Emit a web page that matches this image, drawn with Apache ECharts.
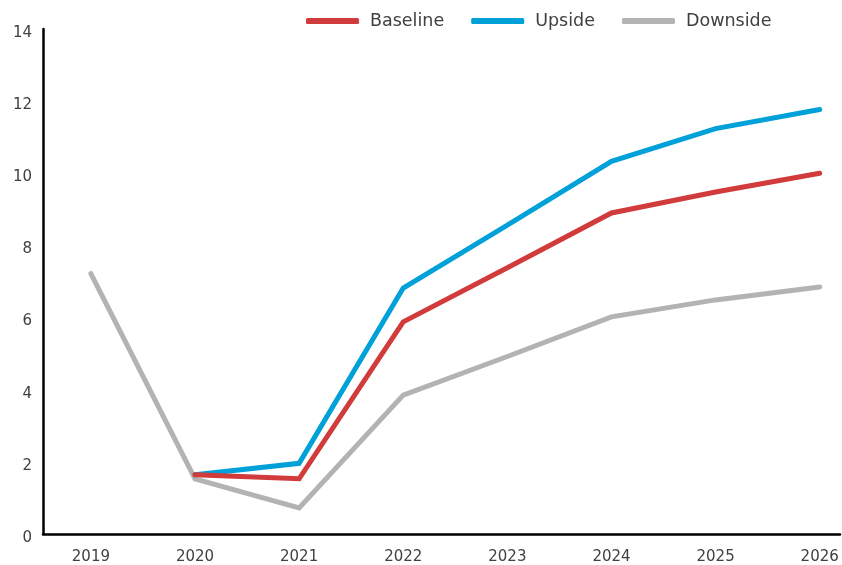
<!DOCTYPE html>
<html>
<head>
<meta charset="utf-8">
<script src="https://cdn.jsdelivr.net/npm/echarts@6/dist/echarts.min.js"></script>
<style>html,body{margin:0;padding:0;background:#fff}#c{width:842px;height:565px}</style>
</head>
<body>
<div id="c"></div>
<script>
var years = [2019, 2020, 2021, 2022, 2023, 2024, 2025, 2026];
var baseline = [null, 1.64, 1.53, 5.88, 7.38, 8.9, 9.48, 10.0];
var upside = [null, 1.64, 1.96, 6.82, 8.56, 10.33, 11.24, 11.77];
var downside = [7.22, 1.53, 0.72, 3.85, 4.92, 6.02, 6.49, 6.85];
var yTicks = [0, 2, 4, 6, 8, 10, 12, 14];

function pairs(vals) {
  var out = [];
  for (var i = 0; i < years.length; i++) {
    if (vals[i] !== null) out.push([years[i], vals[i]]);
  }
  return out;
}

var font = 'DejaVu Sans';
var chart = echarts.init(document.getElementById('c'));
chart.setOption({
  animation: false,
  backgroundColor: '#ffffff',
  grid: { left: 43, right: 2, top: 29, bottom: 29 },
  legend: {
    left: 306, top: 12,
    padding: 0,
    icon: 'roundRect',
    itemWidth: 53, itemHeight: 6,
    itemGap: 27,
    textStyle: { fontFamily: font, fontSize: 17.5, color: '#404040', padding: [0, 0, 0, 6] },
    data: ['Baseline', 'Upside', 'Downside']
  },
  xAxis: {
    type: 'value',
    min: 2018.54, max: 2026.195,
    splitLine: { show: false },
    axisLine: { show: true, lineStyle: { color: '#000', width: 2.5 } },
    axisTick: { show: false },
    axisLabel: {
      customValues: years,
      margin: 16,
      fontFamily: font, fontSize: 15, color: '#404040',
      formatter: function (v) { return String(v); }
    }
  },
  yAxis: {
    type: 'value',
    min: 0, max: 14, interval: 2,
    splitLine: { show: false },
    axisLine: { show: true, lineStyle: { color: '#000', width: 2.5 } },
    axisTick: { show: false },
    axisLabel: {
      customValues: yTicks,
      margin: 11,
      verticalAlign: 'top',
      lineHeight: 8,
      fontFamily: font, fontSize: 15, color: '#404040'
    }
  },
  series: [
    { name: 'Baseline', type: 'line', data: pairs(baseline), symbol: 'none',
      lineStyle: { color: '#d13b3b', width: 5, cap: 'round', join: 'miter' }, itemStyle: { color: '#d13b3b' }, z: 3 },
    { name: 'Upside', type: 'line', data: pairs(upside), symbol: 'none',
      lineStyle: { color: '#00a0d8', width: 5, cap: 'round', join: 'miter' }, itemStyle: { color: '#00a0d8' }, z: 2 },
    { name: 'Downside', type: 'line', data: pairs(downside), symbol: 'none',
      lineStyle: { color: '#b3b3b3', width: 5, cap: 'round', join: 'miter' }, itemStyle: { color: '#b3b3b3' }, z: 1 }
  ]
});
</script>
</body>
</html>
